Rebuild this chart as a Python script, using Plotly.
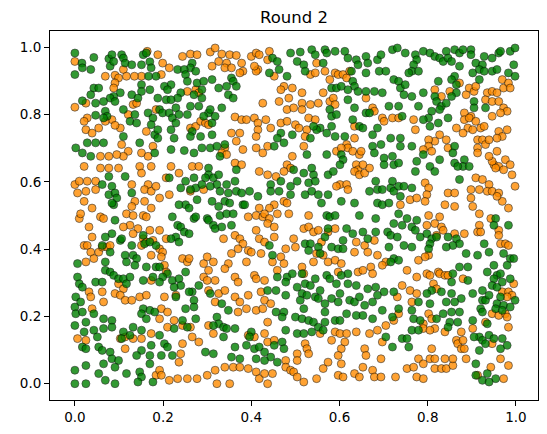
import plotly.graph_objects as go

title_text = "Round 2"
tick_values = [0.0, 0.2, 0.4, 0.6, 0.8, 1.0]
tick_labels = ["0.0", "0.2", "0.4", "0.6", "0.8", "1.0"]

green_points = [
    # top-left
    (0.0,0.983),(0.0,0.919),(0.016,0.953),(0.017,0.939),(0.036,0.934),(0.043,0.970),(0.077,0.966),(0.084,0.978),
    (0.080,0.944),(0.088,0.958),(0.106,0.978),(0.110,0.968),(0.114,0.953),(0.129,0.948),(0.151,0.948),(0.155,0.978),
    (0.162,0.983),(0.170,0.957),(0.173,0.939),(0.167,0.914),(0.184,0.914),(0.043,0.879),(0.054,0.879),(0.103,0.865),
    (0.129,0.859),(0.151,0.889),(0.170,0.874),(0.151,0.869),(0.143,0.849),(0.088,0.854),(0.080,0.849),(0.091,0.839),
    (0.065,0.839),(0.047,0.834),(0.036,0.859),(0.017,0.841),(0.166,0.805),(0.047,0.798),(0.069,0.810),(0.073,0.795),
    (0.065,0.790),(0.110,0.815),(0.136,0.800),(0.125,0.780),(0.140,0.775),(0.177,0.790),(0.173,0.770),(0.181,0.740),
    (0.110,0.735),(0.147,0.716),(0.181,0.686),(0.002,0.701),(0.017,0.686),(0.036,0.676),(0.028,0.716),(0.047,0.716),
    (0.065,0.716),(0.077,0.616),(0.114,0.616),(0.062,0.592),(0.084,0.587),(0.077,0.562),(0.091,0.567),(0.095,0.552),
    (0.129,0.567),(0.088,0.532),(0.084,0.537),
    # bottom-left
    (0.091,0.486),(0.084,0.446),(0.069,0.436),(0.062,0.411),(0.080,0.391),(0.103,0.426),(0.106,0.431),(0.129,0.411),
    (0.158,0.416),(0.170,0.421),(0.155,0.441),(0.184,0.411),(0.114,0.382),(0.132,0.382),(0.140,0.372),(0.117,0.362),
    (0.136,0.352),(0.162,0.347),(0.184,0.347),(0.006,0.357),(0.069,0.362),(0.069,0.337),(0.080,0.332),(0.088,0.322),
    (0.099,0.312),(0.110,0.312),(0.125,0.317),(0.117,0.297),(0.006,0.317),(0.010,0.297),(0.017,0.287),(0.047,0.302),
    (0.062,0.302),(0.155,0.307),(0.177,0.317),(0.002,0.258),(0.013,0.243),(0.0,0.228),(0.002,0.208),(0.017,0.213),
    (0.043,0.208),(0.0,0.173),(0.025,0.183),(0.021,0.154),(0.043,0.159),(0.051,0.139),(0.065,0.193),(0.084,0.188),
    (0.084,0.168),(0.065,0.164),(0.155,0.223),(0.170,0.218),(0.151,0.208),(0.162,0.193),(0.181,0.213),(0.132,0.168),
    (0.151,0.159),(0.110,0.154),(0.106,0.134),(0.125,0.144),(0.017,0.109),(0.025,0.104),(0.054,0.109),(0.062,0.099),
    (0.080,0.094),(0.084,0.074),(0.099,0.069),(0.065,0.059),(0.091,0.049),(0.117,0.030),(0.173,0.114),(0.170,0.084),
    (0.151,0.099),(0.140,0.084),(0.170,0.059),(0.147,0.035),(0.151,0.020),(0.177,0.005),(0.143,0.005),(0.054,0.030),
    (0.069,0.010),(0.091,0.0),(0.0,0.040),(0.025,0.054),(0.0,0.0),(0.025,0.0),
    # second column top
    (0.266,0.953),(0.262,0.939),(0.233,0.934),(0.248,0.934),(0.274,0.929),(0.251,0.919),(0.255,0.899),(0.277,0.894),
    (0.292,0.899),(0.311,0.904),(0.355,0.909),(0.359,0.899),(0.366,0.884),(0.326,0.879),(0.344,0.884),(0.348,0.859),
    (0.359,0.849),(0.218,0.889),(0.203,0.884),(0.210,0.874),(0.240,0.865),(0.288,0.874),(0.288,0.849),(0.270,0.859),
    (0.233,0.849),(0.207,0.844),(0.218,0.844),(0.188,0.849),(0.192,0.815),(0.199,0.805),(0.214,0.805),(0.229,0.820),
    (0.221,0.790),(0.236,0.800),(0.255,0.800),(0.262,0.825),(0.281,0.825),(0.303,0.805),(0.307,0.815),(0.311,0.775),
    (0.292,0.795),(0.318,0.795),(0.333,0.820),(0.229,0.775),(0.218,0.755),(0.225,0.730),(0.188,0.755),(0.188,0.730),
    (0.266,0.750),(0.262,0.735),(0.285,0.735),(0.311,0.740),(0.218,0.696),(0.248,0.693),(0.270,0.686),(0.288,0.701),
    (0.307,0.701),(0.322,0.706),(0.340,0.711),(0.329,0.676),(0.366,0.636),(0.303,0.641),(0.303,0.621),(0.296,0.612),
    (0.314,0.612),(0.326,0.621),(0.322,0.592),(0.344,0.592),(0.363,0.602),(0.270,0.612),(0.251,0.602),(0.274,0.582),
    (0.262,0.577),(0.307,0.587),(0.288,0.592),(0.240,0.582),(0.214,0.612),(0.277,0.547),(0.251,0.532),(0.259,0.522),
    (0.236,0.532),(0.311,0.542),(0.329,0.572),(0.348,0.567),(0.366,0.572),(0.378,0.567),(0.340,0.542),(0.351,0.537),
    (0.381,0.532),(0.326,0.527),
    # second column bottom
    (0.221,0.496),(0.233,0.471),(0.240,0.466),(0.248,0.451),(0.259,0.446),(0.229,0.436),(0.218,0.431),(0.236,0.421),
    (0.270,0.491),(0.274,0.496),(0.300,0.491),(0.303,0.486),(0.314,0.471),(0.318,0.461),(0.333,0.466),(0.329,0.500),
    (0.344,0.505),(0.359,0.505),(0.355,0.471),(0.192,0.347),(0.210,0.327),(0.199,0.317),(0.192,0.302),(0.221,0.307),
    (0.236,0.312),(0.240,0.292),(0.225,0.287),(0.229,0.258),(0.251,0.332),(0.266,0.273),(0.259,0.273),(0.270,0.248),
    (0.270,0.228),(0.251,0.223),(0.281,0.292),(0.307,0.268),(0.333,0.238),(0.348,0.218),(0.274,0.193),(0.244,0.188),
    (0.255,0.168),(0.225,0.164),(0.192,0.144),(0.203,0.119),(0.210,0.109),(0.196,0.084),(0.221,0.084),(0.322,0.198),
    (0.326,0.178),(0.314,0.173),(0.337,0.168),(0.344,0.164),(0.363,0.164),(0.337,0.139),(0.296,0.094),(0.314,0.089),
    (0.363,0.109),(0.355,0.079),(0.374,0.074),
    # third column top
    (0.448,0.968),(0.459,0.958),(0.441,0.924),(0.463,0.934),(0.481,0.914),(0.489,0.983),(0.511,0.986),(0.504,0.958),
    (0.519,0.948),(0.522,0.929),(0.537,0.993),(0.545,0.978),(0.567,0.993),(0.571,0.983),(0.563,0.953),(0.582,0.879),
    (0.578,0.815),(0.582,0.795),(0.582,0.765),(0.571,0.745),(0.556,0.760),(0.548,0.755),(0.541,0.765),(0.534,0.730),
    (0.493,0.740),(0.474,0.716),(0.467,0.745),(0.452,0.706),(0.459,0.730),(0.526,0.681),(0.571,0.681),(0.519,0.626),
    (0.496,0.636),(0.541,0.621),(0.537,0.641),(0.504,0.602),(0.530,0.597),(0.545,0.602),(0.574,0.621),(0.489,0.587),
    (0.467,0.602),(0.444,0.592),(0.444,0.572),(0.463,0.572),(0.415,0.557),(0.396,0.572),(0.385,0.532),(0.489,0.562),
    (0.522,0.562),(0.537,0.572),(0.552,0.562),(0.574,0.562),(0.559,0.537),
    # third column bottom
    (0.441,0.411),(0.448,0.382),(0.522,0.416),(0.534,0.416),(0.530,0.396),(0.552,0.406),(0.556,0.387),(0.567,0.436),
    (0.582,0.406),(0.574,0.461),(0.571,0.500),(0.578,0.496),(0.481,0.317),(0.493,0.327),(0.459,0.317),(0.478,0.302),
    (0.515,0.327),(0.522,0.297),(0.504,0.287),(0.534,0.292),(0.545,0.312),(0.571,0.322),(0.578,0.312),(0.437,0.277),
    (0.456,0.277),(0.478,0.263),(0.515,0.268),(0.526,0.263),(0.545,0.258),(0.552,0.253),(0.556,0.277),(0.582,0.253),
    (0.511,0.248),(0.519,0.223),(0.567,0.238),(0.567,0.213),(0.456,0.213),(0.474,0.213),(0.470,0.198),(0.500,0.198),
    (0.515,0.193),(0.530,0.188),(0.541,0.183),(0.552,0.168),(0.563,0.159),(0.567,0.183),(0.478,0.159),(0.504,0.149),
    (0.519,0.149),(0.537,0.154),(0.400,0.154),(0.396,0.139),(0.389,0.114),(0.407,0.104),(0.418,0.109),(0.452,0.114),
    (0.470,0.124),(0.474,0.104),(0.430,0.094),(0.444,0.079),(0.411,0.074),(0.430,0.069),(0.459,0.064),
    # fourth column top
    (0.590,0.988),(0.612,0.988),(0.619,0.968),(0.638,0.963),(0.642,0.948),(0.660,0.973),(0.664,0.953),(0.660,0.924),
    (0.686,0.963),(0.694,0.978),(0.690,0.929),(0.705,0.929),(0.720,0.993),(0.731,0.998),(0.749,0.983),(0.772,0.978),
    (0.775,0.963),(0.768,0.948),(0.764,0.929),(0.779,0.929),(0.757,0.924),(0.627,0.929),(0.630,0.899),(0.634,0.884),
    (0.619,0.874),(0.593,0.879),(0.604,0.884),(0.619,0.844),(0.642,0.869),(0.660,0.869),(0.679,0.869),(0.697,0.865),
    (0.723,0.904),(0.734,0.899),(0.738,0.879),(0.749,0.889),(0.746,0.859),(0.764,0.854),(0.779,0.825),(0.734,0.825),
    (0.742,0.795),(0.712,0.825),(0.634,0.820),(0.593,0.800),(0.630,0.785),(0.645,0.765),(0.653,0.760),(0.660,0.805),
    (0.668,0.805),(0.686,0.760),(0.675,0.740),(0.716,0.730),(0.738,0.730),(0.612,0.735),(0.590,0.735),(0.675,0.706),
    (0.679,0.686),(0.694,0.711),(0.738,0.706),(0.764,0.706),(0.720,0.676),(0.701,0.671),(0.701,0.651),(0.723,0.651),
    (0.734,0.656),(0.775,0.661),(0.772,0.631),(0.604,0.681),(0.608,0.666),(0.601,0.651),(0.586,0.631),(0.682,0.602),
    (0.668,0.572),(0.686,0.577),(0.697,0.577),(0.716,0.582),(0.720,0.602),(0.723,0.572),(0.734,0.587),(0.746,0.587),
    (0.764,0.582),(0.604,0.542),(0.634,0.537),(0.686,0.537),(0.697,0.532),(0.712,0.537),(0.738,0.557),
    # fourth column bottom
    (0.590,0.500),(0.645,0.500),(0.682,0.491),(0.734,0.505),(0.753,0.491),(0.775,0.486),(0.723,0.476),(0.742,0.471),
    (0.764,0.466),(0.616,0.461),(0.630,0.446),(0.608,0.426),(0.597,0.401),(0.608,0.401),(0.653,0.451),(0.682,0.451),
    (0.664,0.431),(0.709,0.451),(0.716,0.441),(0.731,0.436),(0.746,0.411),(0.764,0.406),(0.712,0.406),(0.772,0.456),
    (0.783,0.436),(0.723,0.372),(0.734,0.367),(0.716,0.362),(0.619,0.327),(0.604,0.322),(0.593,0.297),(0.619,0.297),
    (0.638,0.292),(0.601,0.268),(0.597,0.243),(0.623,0.248),(0.634,0.243),(0.645,0.258),(0.664,0.282),(0.682,0.287),
    (0.701,0.273),(0.686,0.263),(0.723,0.273),(0.675,0.243),(0.657,0.233),(0.616,0.208),(0.638,0.203),(0.653,0.203),
    (0.675,0.193),(0.697,0.218),(0.734,0.223),(0.720,0.198),(0.764,0.218),(0.779,0.243),(0.768,0.193),(0.783,0.188),
    (0.590,0.188),(0.601,0.188),(0.705,0.139),(0.742,0.134),(0.753,0.134),(0.764,0.159),(0.779,0.159),(0.720,0.109),
    (0.757,0.109),
    # right column top
    (0.790,0.988),(0.805,0.983),(0.816,0.973),(0.827,0.968),(0.835,0.958),(0.842,0.988),(0.846,0.968),(0.854,0.958),
    (0.861,0.993),(0.872,0.983),(0.880,0.993),(0.898,0.993),(0.898,0.978),(0.872,0.944),(0.909,0.953),(0.924,0.948),
    (0.928,0.973),(0.946,0.968),(0.961,0.983),(0.965,0.988),(0.987,0.988),(0.998,0.998),(0.995,0.948),(0.983,0.924),
    (0.998,0.914),(0.902,0.924),(0.917,0.934),(0.928,0.929),(0.946,0.929),(0.957,0.934),(0.917,0.904),(0.861,0.914),
    (0.854,0.904),(0.824,0.899),(0.865,0.889),(0.865,0.865),(0.854,0.854),(0.816,0.854),(0.820,0.839),(0.790,0.865),
    (0.831,0.825),(0.842,0.834),(0.846,0.790),(0.827,0.815),(0.809,0.810),(0.802,0.790),(0.790,0.785),(0.805,0.765),
    (0.824,0.775),(0.905,0.839),(0.905,0.820),(0.931,0.820),(0.861,0.706),(0.857,0.686),(0.861,0.656),(0.883,0.666),
    (0.880,0.646),(0.894,0.646),(0.868,0.646),(0.805,0.646),(0.816,0.631),(0.827,0.666),(0.790,0.681),(0.872,0.607),
    # right column bottom
    (0.954,0.491),(0.950,0.471),(0.983,0.471),(0.798,0.446),(0.809,0.431),(0.820,0.436),(0.805,0.416),(0.846,0.436),
    (0.865,0.431),(0.872,0.416),(0.857,0.411),(0.842,0.406),(0.802,0.401),(0.928,0.416),(0.939,0.391),(0.913,0.382),
    (0.887,0.387),(0.972,0.387),(0.987,0.372),(0.995,0.372),(0.980,0.352),(0.950,0.352),(0.957,0.322),(0.965,0.327),
    (0.935,0.332),(0.950,0.312),(0.946,0.292),(0.957,0.287),(0.969,0.302),(0.987,0.312),(0.857,0.327),(0.854,0.302),
    (0.872,0.347),(0.891,0.347),(0.891,0.307),(0.809,0.277),(0.798,0.268),(0.831,0.273),(0.854,0.268),(0.876,0.253),
    (0.842,0.243),(0.861,0.243),(0.805,0.238),(0.902,0.268),(0.924,0.277),(0.924,0.248),(0.931,0.248),(0.939,0.263),
    (0.965,0.258),(0.957,0.238),(0.972,0.233),(0.987,0.228),(0.998,0.248),(0.920,0.223),(0.924,0.213),(0.954,0.223),
    (0.969,0.218),(0.872,0.213),(0.854,0.213),(0.835,0.208),(0.820,0.193),(0.850,0.183),(0.846,0.168),(0.868,0.183),
    (0.902,0.188),(0.935,0.178),(0.917,0.139),(0.905,0.139),(0.924,0.129),(0.939,0.144),(0.950,0.134),(0.969,0.134),
    (0.980,0.114),(0.965,0.104),(0.931,0.119),(0.917,0.099),(0.909,0.059),(0.909,0.025),(0.924,0.010),(0.935,0.030),
    (0.954,0.015),(0.939,0.005),
]

orange_points = [
    # top-left
    (0.0,0.958),(0.110,0.934),(0.091,0.917),(0.164,0.988),(0.151,0.914),(0.135,0.914),(0.117,0.914),(0.069,0.914),
    (0.099,0.909),(0.091,0.894),(0.088,0.879),(0.132,0.830),(0.140,0.834),(0.025,0.834),(0.0,0.822),(0.028,0.790),
    (0.021,0.780),(0.084,0.785),(0.121,0.800),(0.103,0.760),(0.091,0.768),(0.054,0.760),(0.025,0.755),(0.039,0.745),
    (0.069,0.780),(0.162,0.750),(0.177,0.706),(0.121,0.691),(0.110,0.676),(0.095,0.681),(0.077,0.676),(0.058,0.676),
    (0.151,0.686),(0.166,0.676),(0.106,0.711),(0.021,0.646),(0.058,0.641),(0.077,0.641),(0.099,0.641),(0.147,0.646),
    (0.151,0.626),(0.173,0.646),(0.166,0.592),(0.158,0.577),(0.173,0.572),(0.184,0.587),(0.0,0.592),(0.010,0.602),
    (0.028,0.602),(0.047,0.602),(0.006,0.567),(0.025,0.572),(0.047,0.577),(0.129,0.592),(0.136,0.542),(0.158,0.542),
    (0.021,0.542),(0.039,0.522),(0.129,0.527),(0.173,0.522),
    # bottom-left
    (0.010,0.491),(0.013,0.505),(0.032,0.466),(0.058,0.496),(0.065,0.491),(0.117,0.505),(0.132,0.500),(0.155,0.500),
    (0.162,0.496),(0.125,0.471),(0.110,0.466),(0.143,0.461),(0.132,0.446),(0.170,0.456),(0.155,0.431),(0.151,0.411),
    (0.162,0.421),(0.177,0.426),(0.173,0.382),(0.039,0.436),(0.021,0.411),(0.028,0.411),(0.036,0.391),(0.054,0.391),
    (0.062,0.406),(0.073,0.406),(0.080,0.411),(0.025,0.362),(0.043,0.372),(0.099,0.297),(0.110,0.282),(0.091,0.268),
    (0.103,0.263),(0.114,0.248),(0.129,0.248),(0.147,0.258),(0.162,0.263),(0.173,0.307),(0.032,0.273),(0.036,0.258),
    (0.062,0.273),(0.065,0.243),(0.039,0.223),(0.103,0.134),(0.114,0.139),(0.132,0.134),(0.151,0.134),(0.173,0.149),
    (0.114,0.104),(0.006,0.134),(0.025,0.129),(0.184,0.025),
    # second column top
    (0.188,0.978),(0.199,0.953),(0.214,0.939),(0.196,0.919),(0.244,0.973),(0.262,0.980),(0.277,0.978),(0.307,0.986),
    (0.318,0.998),(0.333,0.980),(0.351,0.978),(0.366,0.976),(0.344,0.953),(0.326,0.958),(0.311,0.944),(0.340,0.939),
    (0.355,0.939),(0.378,0.953),(0.381,0.929),(0.374,0.924),(0.255,0.869),(0.274,0.874),(0.281,0.865),(0.363,0.793),
    (0.378,0.785),(0.355,0.745),(0.374,0.745),(0.366,0.721),(0.381,0.696),(0.262,0.760),(0.274,0.765),(0.285,0.780),
    (0.296,0.775),(0.303,0.770),(0.184,0.815),(0.340,0.701),(0.333,0.686),(0.344,0.681),(0.218,0.646),(0.236,0.626),
    (0.207,0.612),(0.266,0.646),(0.281,0.646),(0.363,0.656),(0.378,0.651),(0.214,0.562),(0.192,0.552),(0.262,0.572),
    (0.292,0.577),
    # second column bottom
    (0.192,0.456),(0.207,0.431),(0.192,0.401),(0.199,0.391),(0.196,0.377),(0.203,0.352),(0.207,0.332),(0.244,0.372),
    (0.255,0.362),(0.259,0.372),(0.292,0.357),(0.300,0.377),(0.314,0.362),(0.303,0.337),(0.337,0.431),(0.363,0.441),
    (0.374,0.431),(0.381,0.416),(0.370,0.401),(0.355,0.387),(0.348,0.357),(0.340,0.342),(0.363,0.317),(0.370,0.302),
    (0.292,0.317),(0.300,0.307),(0.318,0.307),(0.303,0.277),(0.326,0.268),(0.340,0.277),(0.363,0.258),(0.374,0.243),
    (0.370,0.213),(0.318,0.243),(0.203,0.258),(0.196,0.223),(0.210,0.213),(0.229,0.263),(0.192,0.193),(0.225,0.188),
    (0.210,0.168),(0.244,0.173),(0.262,0.168),(0.266,0.139),(0.281,0.124),(0.244,0.119),(0.240,0.089),(0.236,0.064),
    (0.192,0.040),(0.196,0.025),(0.214,0.010),(0.233,0.015),(0.255,0.015),(0.277,0.015),(0.300,0.025),(0.318,0.040),
    (0.322,0.0),(0.351,0.0),(0.340,0.049),(0.359,0.049),(0.374,0.049),(0.303,0.173),(0.314,0.149),
    # third column top
    (0.400,0.973),(0.411,0.983),(0.418,0.978),(0.415,0.934),(0.411,0.929),(0.407,0.944),(0.441,0.988),(0.437,0.963),
    (0.452,0.914),(0.474,0.884),(0.467,0.874),(0.493,0.879),(0.548,0.953),(0.534,0.919),(0.545,0.924),(0.567,0.929),
    (0.578,0.904),(0.515,0.865),(0.563,0.865),(0.578,0.839),(0.485,0.849),(0.463,0.839),(0.481,0.815),(0.496,0.820),
    (0.515,0.834),(0.515,0.815),(0.534,0.830),(0.552,0.834),(0.426,0.834),(0.389,0.785),(0.407,0.790),(0.433,0.785),
    (0.415,0.775),(0.415,0.755),(0.411,0.735),(0.444,0.760),(0.467,0.775),(0.481,0.780),(0.500,0.770),(0.508,0.760),
    (0.530,0.790),(0.545,0.785),(0.526,0.755),(0.522,0.735),(0.519,0.706),(0.411,0.701),(0.426,0.686),(0.437,0.706),
    (0.493,0.676),(0.481,0.651),(0.489,0.641),(0.474,0.631),(0.437,0.621),(0.456,0.616),(0.418,0.631),(0.452,0.532),
    (0.474,0.542),(0.481,0.537),(0.418,0.522),(0.441,0.522),
    # third column bottom
    (0.393,0.496),(0.411,0.500),(0.426,0.496),(0.430,0.505),(0.441,0.491),(0.459,0.505),(0.485,0.505),(0.530,0.500),
    (0.437,0.476),(0.452,0.466),(0.411,0.456),(0.418,0.431),(0.430,0.421),(0.452,0.436),(0.496,0.431),(0.500,0.406),
    (0.478,0.401),(0.467,0.377),(0.474,0.357),(0.448,0.362),(0.459,0.337),(0.407,0.322),(0.411,0.312),(0.430,0.307),
    (0.393,0.396),(0.400,0.391),(0.389,0.362),(0.422,0.387),(0.519,0.461),(0.530,0.466),(0.541,0.451),(0.552,0.456),
    (0.574,0.451),(0.559,0.421),(0.541,0.362),(0.548,0.387),(0.563,0.382),(0.574,0.362),(0.515,0.347),(0.519,0.327),
    (0.393,0.263),(0.422,0.273),(0.430,0.248),(0.444,0.238),(0.389,0.223),(0.411,0.218),(0.426,0.223),(0.437,0.183),
    (0.430,0.149),(0.437,0.124),(0.452,0.129),(0.393,0.144),(0.407,0.139),(0.393,0.045),(0.411,0.035),(0.418,0.015),
    (0.430,0.030),(0.448,0.030),(0.437,0.0),(0.478,0.069),(0.478,0.049),(0.489,0.040),(0.504,0.089),(0.504,0.069),
    (0.496,0.035),(0.504,0.020),(0.519,0.005),(0.522,0.119),(0.526,0.104),(0.530,0.089),(0.548,0.015),(0.563,0.045),
    (0.574,0.064),(0.556,0.149),(0.582,0.129),
    # fourth column top
    (0.590,0.924),(0.597,0.919),(0.608,0.919),(0.616,0.909),(0.623,0.929),(0.660,0.849),(0.675,0.820),(0.679,0.810),
    (0.697,0.790),(0.701,0.780),(0.720,0.790),(0.734,0.790),(0.768,0.785),(0.772,0.755),(0.586,0.849),(0.590,0.830),
    (0.634,0.765),(0.634,0.730),(0.616,0.711),(0.619,0.701),(0.593,0.691),(0.604,0.701),(0.630,0.691),(0.645,0.681),
    (0.649,0.691),(0.638,0.651),(0.642,0.636),(0.634,0.631),(0.645,0.621),(0.657,0.626),(0.668,0.641),(0.653,0.651),
    (0.601,0.592),(0.616,0.592),(0.619,0.577),(0.593,0.587),(0.738,0.532),(0.760,0.547),(0.775,0.552),
    # fourth column bottom
    (0.590,0.461),(0.638,0.421),(0.657,0.411),(0.679,0.426),(0.634,0.391),(0.664,0.391),(0.686,0.382),(0.705,0.362),
    (0.697,0.352),(0.590,0.367),(0.604,0.357),(0.597,0.332),(0.642,0.332),(0.653,0.337),(0.671,0.347),(0.675,0.327),
    (0.753,0.337),(0.779,0.367),(0.775,0.317),(0.742,0.292),(0.760,0.277),(0.775,0.268),(0.764,0.243),(0.731,0.258),
    (0.734,0.208),(0.723,0.188),(0.705,0.173),(0.686,0.159),(0.697,0.124),(0.590,0.154),(0.601,0.149),(0.616,0.149),
    (0.638,0.154),(0.668,0.149),(0.612,0.124),(0.604,0.104),(0.597,0.084),(0.604,0.059),(0.597,0.025),(0.608,0.020),
    (0.634,0.030),(0.645,0.020),(0.653,0.049),(0.657,0.104),(0.660,0.084),(0.694,0.074),(0.675,0.040),(0.679,0.020),
    (0.694,0.020),(0.727,0.020),(0.753,0.045),(0.768,0.049),(0.779,0.074),(0.775,0.020),
    # right column top
    (0.816,0.874),(0.831,0.854),(0.850,0.869),(0.872,0.894),(0.887,0.859),(0.894,0.879),(0.905,0.869),(0.909,0.884),
    (0.935,0.865),(0.946,0.869),(0.957,0.865),(0.972,0.879),(0.969,0.904),(0.983,0.894),(0.987,0.879),(0.931,0.844),
    (0.946,0.839),(0.961,0.839),(0.972,0.820),(0.980,0.810),(0.965,0.805),(0.946,0.795),(0.898,0.795),(0.883,0.805),
    (0.883,0.785),(0.894,0.790),(0.909,0.780),(0.891,0.760),(0.865,0.760),(0.880,0.745),(0.902,0.755),(0.920,0.760),
    (0.928,0.765),(0.961,0.750),(0.969,0.735),(0.980,0.755),(0.957,0.730),(0.827,0.740),(0.816,0.721),(0.802,0.725),
    (0.802,0.706),(0.790,0.696),(0.809,0.691),(0.842,0.725),(0.846,0.701),(0.913,0.725),(0.924,0.725),(0.931,0.711),
    (0.913,0.701),(0.913,0.686),(0.939,0.725),(0.957,0.691),(0.950,0.651),(0.961,0.646),(0.946,0.661),(0.939,0.676),
    (0.976,0.666),(0.987,0.651),(0.972,0.636),(0.991,0.621),(0.998,0.587),(0.954,0.641),(0.909,0.612),(0.924,0.607),
    (0.939,0.592),(0.898,0.577),(0.917,0.577),(0.935,0.572),(0.946,0.572),(0.961,0.567),(0.969,0.542),(0.983,0.522),
    (0.957,0.557),(0.794,0.597),(0.802,0.582),(0.798,0.562),(0.846,0.567),(0.861,0.567),(0.839,0.532),(0.861,0.527),
    (0.898,0.552),(0.902,0.527),(0.794,0.542),
    # right column bottom
    (0.802,0.500),(0.827,0.496),(0.816,0.476),(0.831,0.466),(0.835,0.456),(0.820,0.441),(0.798,0.471),(0.917,0.505),
    (0.943,0.491),(0.917,0.471),(0.913,0.451),(0.920,0.451),(0.961,0.456),(0.961,0.441),(0.965,0.416),(0.976,0.416),
    (0.983,0.411),(0.861,0.446),(0.883,0.446),(0.802,0.382),(0.794,0.377),(0.798,0.327),(0.805,0.322),(0.824,0.332),
    (0.827,0.327),(0.839,0.322),(0.846,0.322),(0.813,0.297),(0.820,0.282),(0.880,0.312),(0.995,0.297),(0.969,0.273),
    (0.983,0.273),(0.991,0.263),(0.980,0.258),(0.802,0.208),(0.809,0.193),(0.790,0.178),(0.790,0.164),(0.816,0.164),
    (0.805,0.159),(0.839,0.154),(0.876,0.154),(0.865,0.129),(0.868,0.119),(0.880,0.129),(0.876,0.104),(0.883,0.104),
    (0.902,0.164),(0.931,0.183),(0.946,0.208),(0.961,0.203),(0.976,0.208),(0.980,0.198),(0.983,0.168),(0.809,0.104),
    (0.805,0.074),(0.816,0.074),(0.790,0.059),(0.816,0.045),(0.831,0.045),(0.842,0.045),(0.857,0.054),(0.857,0.074),
    (0.839,0.074),(0.887,0.074),(0.913,0.025),(0.943,0.049),(0.965,0.074),(0.983,0.054),(0.946,0.119),(0.972,0.015),
    (0.790,0.015),
]

orange_x = [p[0] for p in orange_points]
orange_y = [p[1] for p in orange_points]
green_x = [p[0] for p in green_points]
green_y = [p[1] for p in green_points]

fig = go.Figure()
fig.add_trace(go.Scatter(
    x=orange_x, y=orange_y, mode="markers",
    marker=dict(size=8, color="darkorange", opacity=0.8,
                line=dict(color="black", width=0.6)),
    hoverinfo="skip",
))
fig.add_trace(go.Scatter(
    x=green_x, y=green_y, mode="markers",
    marker=dict(size=8, color="green", opacity=0.8,
                line=dict(color="black", width=0.6)),
    hoverinfo="skip",
))

axis_common = dict(
    tickvals=tick_values, ticktext=tick_labels,
    ticks="outside", ticklen=5, tickwidth=1, tickcolor="black",
    showline=True, linecolor="black", linewidth=1, mirror=True,
    showgrid=False, zeroline=False,
    tickfont=dict(family="DejaVu Sans", size=13.5, color="black"),
)

fig.update_layout(
    width=547, height=434,
    margin=dict(l=34, r=17, t=23, b=42),
    paper_bgcolor="white", plot_bgcolor="white",
    showlegend=False,
    title=dict(text=title_text, x=0.5, xref="paper", xanchor="center",
               y=1 - 9 / 434, yref="container", yanchor="middle",
               font=dict(family="DejaVu Sans", size=16.5, color="black")),
    xaxis=dict(range=[-0.0564, 1.050], **axis_common),
    yaxis=dict(range=[-0.0485, 1.0485], **axis_common),
)

fig.write_html("out.html")
